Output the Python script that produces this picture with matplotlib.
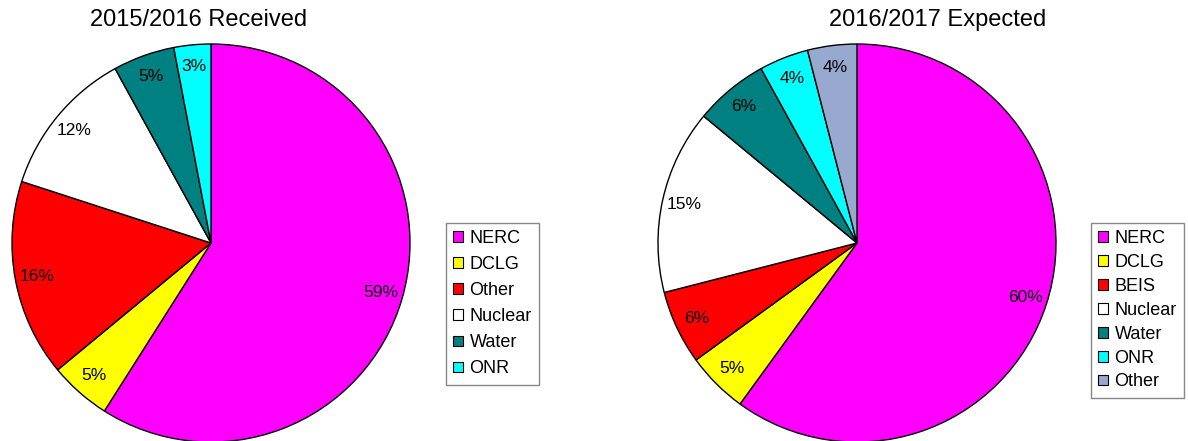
import matplotlib.pyplot as plt

plt.rcParams['font.family'] = ['Liberation Sans', 'DejaVu Sans']

# données
labels_1516 = ['NERC', 'DCLG', 'Other', 'Nuclear', 'Water', 'ONR']
values_1516 = [59, 5, 16, 12, 5, 3]
colors_1516 = ['#FF00FF', '#FFFF00', '#FF0000', '#FFFFFF', '#008080', '#00FFFF']

labels_1617 = ['NERC', 'DCLG', 'BEIS', 'Nuclear', 'Water', 'ONR', 'Other']
values_1617 = [60, 5, 6, 15, 6, 4, 4]
colors_1617 = ['#FF00FF', '#FFFF00', '#FF0000', '#FFFFFF', '#008080', '#00FFFF', '#97A9CF']

W, H = 1188, 441
fig = plt.figure(figsize=(W / 100, H / 100), dpi=100)


def draw_pie(cx, cy, r, values, colors, labels, title, tx, leg_xy, spacing):
    ax = fig.add_axes([(cx - r) / W, (H - cy - r) / H, 2 * r / W, 2 * r / H])
    wedges, _, autotexts = ax.pie(values, colors=colors, startangle=90, counterclock=False,
                                  autopct='%1.0f%%', pctdistance=0.89,
                                  wedgeprops=dict(edgecolor='black', linewidth=1),
                                  textprops=dict(fontsize=12.5, color='black'))
    for w in wedges:
        w.set_clip_on(False)
    ax.set_xlim(-1, 1)
    ax.set_ylim(-1, 1)
    ax.set_aspect('equal')
    fig.text(tx / W, 1 - 20 / H, title, ha='center', va='center', fontsize=17)
    leg = ax.legend(wedges, labels, loc='upper left',
                    bbox_to_anchor=(leg_xy[0] / W, 1 - leg_xy[1] / H),
                    bbox_transform=fig.transFigure, borderaxespad=0,
                    fontsize=13, handlelength=0.55, handleheight=0.55,
                    handletextpad=0.35, labelspacing=spacing, borderpad=0.4,
                    fancybox=False, edgecolor='#888888', framealpha=1)
    leg.get_frame().set_linewidth(1)
    for h in leg.legend_handles:
        h.set_linewidth(0.8)
    return ax


draw_pie(211, 243, 199, values_1516, colors_1516, labels_1516,
         '2015/2016 Received', 199, (446, 223), 0.5)
draw_pie(857, 243, 199, values_1617, colors_1617, labels_1617,
         '2016/2017 Expected', 938, (1091, 223), 0.38)

plt.savefig('out.png', dpi=100)
